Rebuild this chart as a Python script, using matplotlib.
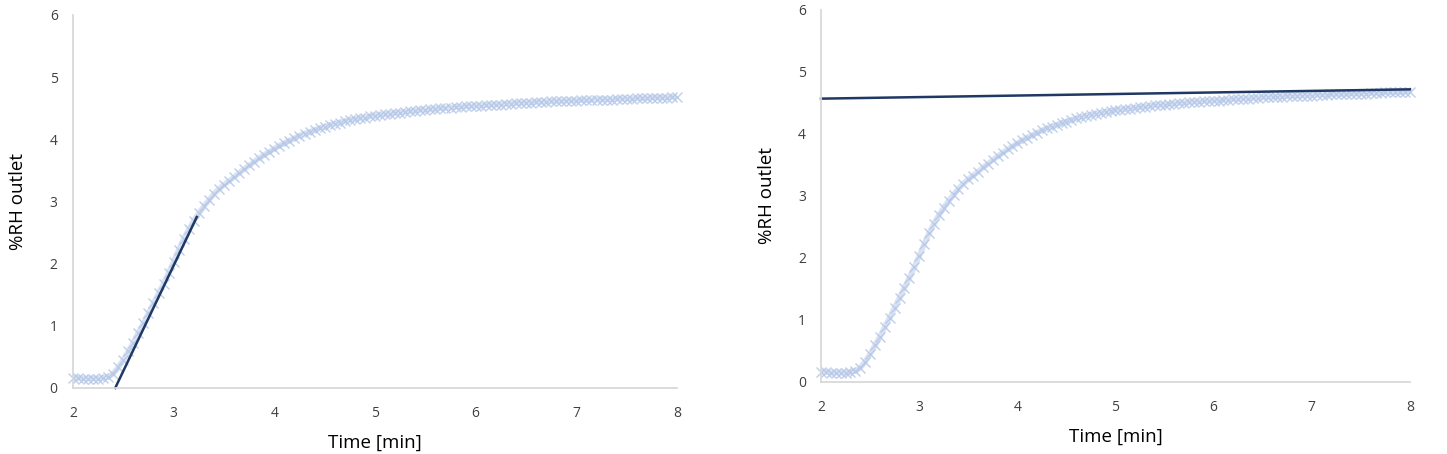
import numpy as np
import matplotlib
matplotlib.use('Agg')
import matplotlib.pyplot as plt

time_min = np.round(np.arange(2.0, 8.0001, 0.05), 2)
rh_outlet = [
    0.16, 0.16, 0.15, 0.15, 0.15, 0.15, 0.16, 0.18, 0.23, 0.33,
    0.45, 0.59, 0.73, 0.89, 1.04, 1.20, 1.36, 1.52, 1.68, 1.85,
    2.03, 2.22, 2.40, 2.55, 2.69, 2.81, 2.92, 3.02, 3.12, 3.20,
    3.27, 3.33, 3.39, 3.46, 3.52, 3.58, 3.64, 3.70, 3.75, 3.80,
    3.85, 3.90, 3.94, 3.98, 4.02, 4.06, 4.09, 4.12, 4.15, 4.18,
    4.20, 4.23, 4.25, 4.27, 4.29, 4.31, 4.32, 4.34, 4.35, 4.37,
    4.38, 4.39, 4.40, 4.41, 4.42, 4.43, 4.44, 4.45, 4.46, 4.47,
    4.47, 4.48, 4.49, 4.50, 4.50, 4.51, 4.52, 4.52, 4.53, 4.53,
    4.54, 4.54, 4.55, 4.55, 4.56, 4.56, 4.57, 4.57, 4.58, 4.58,
    4.59, 4.59, 4.60, 4.60, 4.60, 4.61, 4.61, 4.61, 4.62, 4.62,
    4.62, 4.63, 4.63, 4.63, 4.64, 4.64, 4.64, 4.64, 4.65, 4.65,
    4.65, 4.65, 4.66, 4.66, 4.66, 4.67, 4.67, 4.67, 4.67, 4.68,
    4.68,
]

# tangent at the inflection (left) and plateau line (right)
slope_x = [2.42, 3.23]
slope_y = [0.0, 2.75]
plateau_x = [2.0, 8.0]
plateau_y = [4.57, 4.72]

x_ticks = [2, 3, 4, 5, 6, 7, 8]
y_ticks = [0, 1, 2, 3, 4, 5, 6]

plt.rcParams['font.family'] = ['Open Sans', 'DejaVu Sans']

marker_col = '#b4c7e7'
line_col = '#1f3864'
text_col = '#404040'
spine_col = '#d9d9d9'

fig = plt.figure(figsize=(14.47, 4.54), dpi=100)
ax1 = fig.add_axes([0.0504, 0.1454, 0.4175, 0.8216])
ax2 = fig.add_axes([0.5674, 0.1586, 0.4070, 0.8194])


def style(ax):
    ax.set_xlim(2, 8)
    ax.set_ylim(0, 6)
    ax.set_xticks(x_ticks)
    ax.set_yticks(y_ticks)
    for s in ['top', 'right']:
        ax.spines[s].set_visible(False)
    for s in ['left', 'bottom']:
        ax.spines[s].set_color(spine_col)
        ax.spines[s].set_linewidth(1.3)
    ax.tick_params(axis='both', length=0, labelsize=10, colors=text_col)
    ax.tick_params(axis='x', pad=13)
    ax.tick_params(axis='y', pad=11)
    ax.set_xlabel('Time [min]', fontsize=13.5, color='black', labelpad=9)
    ax.set_ylabel('%RH outlet', fontsize=13.5, color='black', labelpad=16)


def draw_curve(ax):
    # pale band of crosses like the densely sampled series
    ax.plot(time_min, rh_outlet, linestyle='-', lw=4, color=marker_col,
            alpha=0.5, clip_on=False, solid_capstyle='butt')
    ax.plot(time_min, rh_outlet, linestyle='none', marker='x', ms=6.5, mew=1.0,
            color=marker_col, alpha=0.85, clip_on=False)


draw_curve(ax1)
ax1.plot(slope_x, slope_y, color=line_col, lw=1.8, clip_on=False)
style(ax1)

draw_curve(ax2)
ax2.plot(plateau_x, plateau_y, color=line_col, lw=1.8, clip_on=False)
style(ax2)

fig.savefig('out.png', dpi=100)
